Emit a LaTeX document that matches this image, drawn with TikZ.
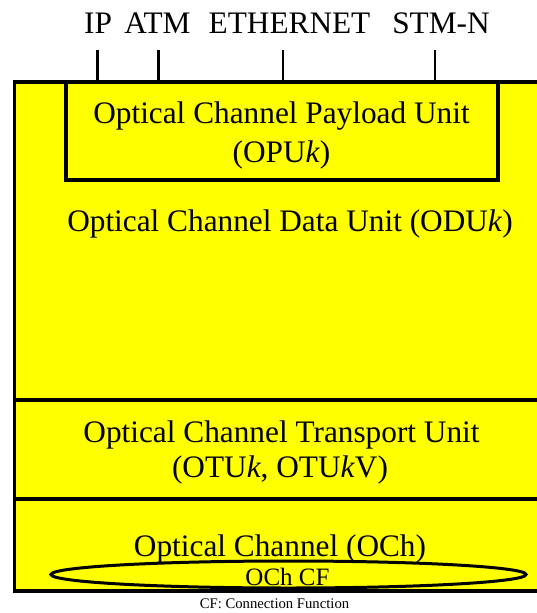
\documentclass[tikz,border=0pt]{standalone}
\usepackage{fontspec}
\setmainfont{Liberation Serif}
\usetikzlibrary{shapes.geometric}
\definecolor{layeryellow}{RGB}{255,255,0}
\begin{document}
\begin{tikzpicture}[x=1pt,y=-1pt,
    frame/.style={line width=3.3pt},
    tick/.style={line width=2.7pt},
    bigtext/.style={anchor=base, inner sep=0pt, font=\fontsize{31.3}{37}\selectfont},
    midtext/.style={anchor=base, inner sep=0pt, font=\fontsize{25}{30}\selectfont},
    smalltext/.style={anchor=base, inner sep=0pt, font=\fontsize{14.7}{17}\selectfont}]
  \useasboundingbox (0,0) rectangle (537,613);
  \clip (0,0) rectangle (537,613);

  % layer stack background
  \fill[layeryellow] (14.5,82) rectangle (550,591);

  % client signals on top
  \node[bigtext] (ip)  at (98,33)    {IP};
  \node[bigtext] (atm) at (157.5,33) {ATM};
  \node[bigtext] (eth) at (289.5,33) {ETHERNET};
  \node[bigtext] (stm) at (441,33)   {STM-N};
  \coordinate (ipT)  at (97.5,50);  \coordinate (ipB)  at (97.5,82);
  \coordinate (atmT) at (158.5,50); \coordinate (atmB) at (158.5,82);
  \coordinate (ethT) at (283,50);   \coordinate (ethB) at (283,82);
  \coordinate (stmT) at (435,50);   \coordinate (stmB) at (435,82);
  \draw[tick] (ipT) -- (ipB);
  \draw[tick] (atmT) -- (atmB);
  \draw[tick] (ethT) -- (ethB);
  \draw[tick] (stmT) -- (stmB);

  % outer frame and layer separators
  \draw[frame] (550,82) -- (14.5,82) -- (14.5,591) -- (550,591);
  \draw[frame] (14.5,400) -- (550,400);
  \draw[frame] (14.5,499) -- (550,499);

  % OPUk box
  \draw[frame] (66,82) rectangle (498,180);

  % layer names
  \node[bigtext] (opu1) at (281.5,123) {Optical Channel Payload Unit};
  \node[bigtext] (opu2) at (281.5,162) {(OPU\textit{k})};
  \node[bigtext] (odu)  at (290,231)   {Optical Channel Data Unit (ODU\textit{k})};
  \node[bigtext] (otu1) at (281.5,442) {Optical Channel Transport Unit};
  \node[bigtext] (otu2) at (280,477)   {(OTU\textit{k}, OTU\textit{k}V)};

  % OCh layer with its connection function
  \node[ellipse, draw, line width=3pt, inner sep=0pt,
        minimum width=475pt, minimum height=27pt] (cf) at (288.5,574.5) {};
  \node[bigtext] (och) at (280,556) {Optical Channel (OCh)};
  \node[midtext] (cftext) at (287.5,585) {OCh CF};

  % legend
  \node[smalltext] (legend) at (274.5,608) {CF: Connection Function};
\end{tikzpicture}
\end{document}
